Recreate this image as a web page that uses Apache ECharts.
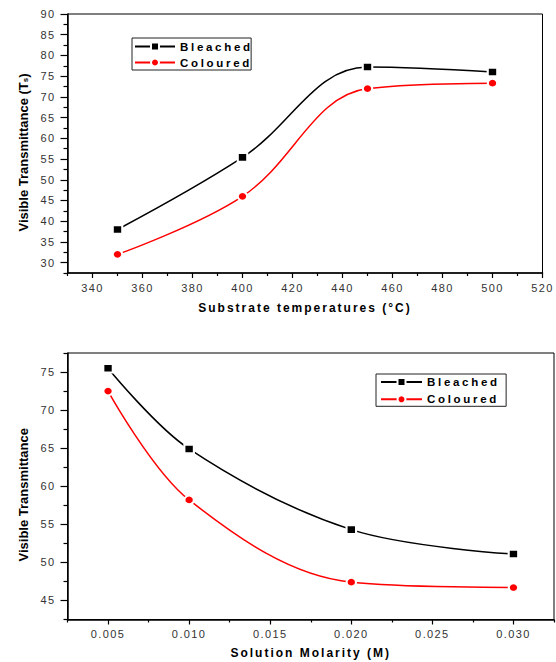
<!DOCTYPE html>
<html>
<head>
<meta charset="utf-8">
<script src="https://cdn.jsdelivr.net/npm/echarts@6/dist/echarts.min.js"></script>
<style>
html,body{margin:0;padding:0;background:#fff;}
#chart{width:556px;height:662px;}
#chart text[style*="11px"]{letter-spacing:1.4px;}
#chart text[style*="11.5px"]{letter-spacing:2.7px;}
#chart text[style*="12px"]{letter-spacing:2px;}
</style>
</head>
<body>
<div id="chart"></div>
<script>
// ---- Chart 1: substrate temperature ----
const tempCategories = [350, 400, 450, 500];
const tempBleached = [38.0, 55.4, 77.2, 76.0];
const tempColoured = [32.0, 46.0, 72.0, 73.3];
const tempXTicks = [340, 360, 380, 400, 420, 440, 460, 480, 500, 520];
const tempXMinorTicks = [330, 350, 370, 390, 410, 430, 450, 470, 490, 510];
const tempYTicks = [30, 35, 40, 45, 50, 55, 60, 65, 70, 75, 80, 85, 90];
const tempYMinorTicks = [27.5, 32.5, 37.5, 42.5, 47.5, 52.5, 57.5, 62.5, 67.5, 72.5, 77.5, 82.5, 87.5];

// ---- Chart 2: solution molarity ----
const molCategories = [0.005, 0.010, 0.020, 0.030];
const molBleached = [75.5, 64.9, 54.3, 51.1];
const molColoured = [72.5, 58.2, 47.4, 46.7];
const molXTicks = [0.005, 0.010, 0.015, 0.020, 0.025, 0.030];
const molXMinorTicks = [0.0025, 0.0075, 0.0125, 0.0175, 0.0225, 0.0275, 0.0325];
const molYTicks = [45, 50, 55, 60, 65, 70, 75];
const molYMinorTicks = [42.5, 47.5, 52.5, 57.5, 62.5, 67.5, 72.5, 77.5];

const FONT = '"Liberation Sans", Arial, sans-serif';
const pairs = (xs, ys) => xs.map((x, i) => [x, ys[i]]);

function majorAxis(gridIndex, min, max, ticks, tickLen, margin, fmt, extra) {
  return Object.assign({
    type: 'value', gridIndex, min, max,
    axisLine: {show: true, onZero: false, lineStyle: {color: '#000', width: 1.5}},
    axisTick: {show: true, inside: false, length: tickLen, customValues: ticks, lineStyle: {color: '#000', width: 1.2}},
    axisLabel: {show: true, customValues: ticks, margin, color: '#333', fontSize: 11, fontFamily: FONT, formatter: fmt},
    splitLine: {show: false}
  }, extra || {});
}
function minorAxis(gridIndex, min, max, ticks, tickLen, position) {
  return {
    type: 'value', gridIndex, min, max, position,
    axisLine: {show: false, onZero: false},
    axisTick: {show: true, inside: false, length: tickLen, customValues: ticks, lineStyle: {color: '#000', width: 1.2}},
    axisLabel: {show: false},
    splitLine: {show: false}
  };
}

const nameStyleX = {fontSize: 12, fontWeight: 'bold', color: '#000', fontFamily: FONT};

function seriesPair(xi, yi, xs, b, c, sm) {
  return [
    {
      name: 'Bleached', type: 'line', xAxisIndex: xi, yAxisIndex: yi,
      data: pairs(xs, b), smooth: sm,
      symbol: 'rect', symbolSize: [9.5, 8.5],
      lineStyle: {color: '#000', width: 1.5},
      itemStyle: {color: '#000', borderColor: '#fff', borderWidth: 2}
    },
    {
      name: 'Coloured', type: 'line', xAxisIndex: xi, yAxisIndex: yi,
      data: pairs(xs, c), smooth: sm,
      symbol: 'circle', symbolSize: [9.5, 8.5],
      lineStyle: {color: '#ff0000', width: 1.5},
      itemStyle: {color: '#ff0000', borderColor: '#fff', borderWidth: 2}
    }
  ];
}

const chart = echarts.init(document.getElementById('chart'), null, {renderer: 'svg'});
chart.setOption({
  animation: false,
  backgroundColor: '#fff',
  grid: [
    {left: 67.5, top: 14, width: 475, height: 259, show: true, borderColor: '#000', borderWidth: 1, backgroundColor: 'transparent'},
    {left: 67.5, top: 353, width: 486.5, height: 266.5, show: true, borderColor: '#000', borderWidth: 1, backgroundColor: 'transparent'}
  ],
  legend: [
    {
      orient: 'vertical', left: 132, top: 38, data: ['Bleached', 'Coloured'],
      itemWidth: 40, itemHeight: 10, itemGap: 3, padding: [2, 20, 1, 2],
      backgroundColor: '#fff', borderColor: '#222', borderWidth: 1, borderRadius: 0,
      textStyle: {fontSize: 11.5, fontWeight: 'bold', color: '#000', fontFamily: FONT, lineHeight: 13}
    },
    {
      orient: 'vertical', left: 376, top: 374, data: ['Bleached', 'Coloured'],
      itemWidth: 41, itemHeight: 10, itemGap: 3.3, padding: [1, 28, 0, 4],
      backgroundColor: '#fff', borderColor: '#222', borderWidth: 1, borderRadius: 0,
      textStyle: {fontSize: 11.5, fontWeight: 'bold', color: '#000', fontFamily: FONT, lineHeight: 14}
    }
  ],
  xAxis: [
    majorAxis(0, 330, 520, tempXTicks, 5, 9, v => String(v), {
      position: 'bottom', name: 'Substrate temperatures (°C)', nameLocation: 'middle', nameGap: 29, nameTextStyle: nameStyleX
    }),
    minorAxis(0, 330, 520, tempXMinorTicks, 3, 'bottom'),
    majorAxis(1, 0.0025, 0.0325, molXTicks, 5, 9, v => v.toFixed(3), {
      position: 'bottom', name: 'Solution Molarity (M)', nameLocation: 'middle', nameGap: 27, nameTextStyle: nameStyleX
    }),
    minorAxis(1, 0.0025, 0.0325, molXMinorTicks, 3, 'bottom')
  ],
  yAxis: [
    majorAxis(0, 27.5, 90, tempYTicks, 7, 12, v => String(v), {
      position: 'left', name: 'Visible Transmittance (T{s|s})', nameLocation: 'middle', nameGap: 38,
      nameTextStyle: {fontSize: 13, fontWeight: 'bold', color: '#000', fontFamily: FONT, padding: [0, 18, 0, 0],
        rich: {s: {fontSize: 8, fontWeight: 'bold', color: '#000', fontFamily: FONT, verticalAlign: 'bottom', lineHeight: 6}}}
    }),
    minorAxis(0, 27.5, 90, tempYMinorTicks, 4, 'left'),
    majorAxis(1, 42.5, 77.5, molYTicks, 7, 12, v => String(v), {
      position: 'left', name: 'Visible Transmittance', nameLocation: 'middle', nameGap: 38,
      nameTextStyle: {fontSize: 13, fontWeight: 'bold', color: '#000', fontFamily: FONT, padding: [0, 17, 0, 0]}
    }),
    minorAxis(1, 42.5, 77.5, molYMinorTicks, 4, 'left')
  ],
  series: [
    ...seriesPair(0, 0, tempCategories, tempBleached, tempColoured, 0.38),
    ...seriesPair(2, 2, molCategories, molBleached, molColoured, 0.35)
  ]
});
</script>
</body>
</html>
